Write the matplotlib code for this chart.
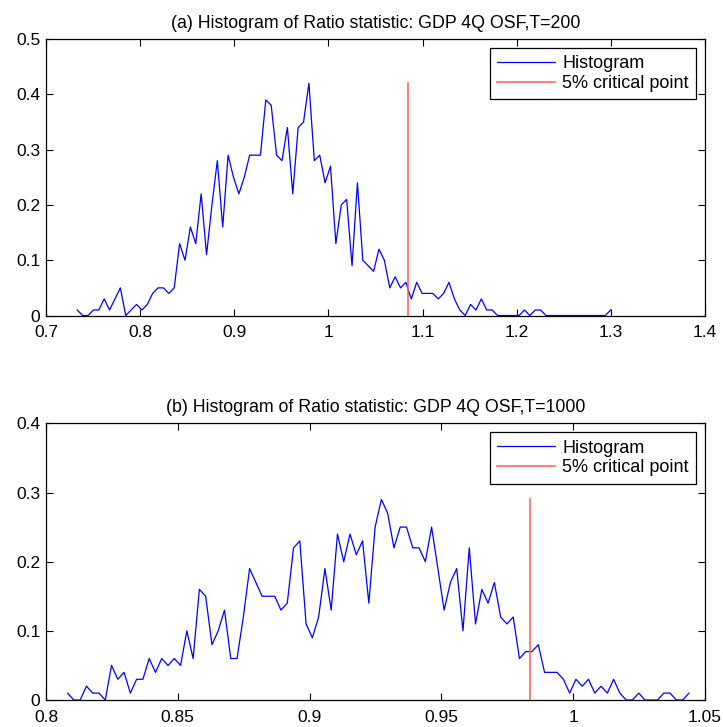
import matplotlib
matplotlib.use('Agg')
import matplotlib.pyplot as plt
import numpy as np

plt.rcParams['font.family'] = ['Liberation Sans', 'DejaVu Sans']

# (a) T=200: 100 bins
a_start, a_end = 0.7332, 1.2998
a_freq = [0.01, 0, 0, 0.01, 0.01, 0.03, 0.01, 0.03, 0.05, 0,
          0.01, 0.02, 0.01, 0.02, 0.04, 0.05, 0.05, 0.04, 0.05, 0.13,
          0.10, 0.16, 0.13, 0.22, 0.11, 0.20, 0.28, 0.16, 0.29, 0.25,
          0.22, 0.25, 0.29, 0.29, 0.29, 0.39, 0.38, 0.29, 0.28, 0.34,
          0.22, 0.34, 0.35, 0.42, 0.28, 0.29, 0.24, 0.27, 0.13, 0.20,
          0.21, 0.09, 0.24, 0.10, 0.09, 0.08, 0.12, 0.10, 0.05, 0.07,
          0.05, 0.06, 0.03, 0.06, 0.04, 0.04, 0.04, 0.03, 0.04, 0.06,
          0.03, 0.01, 0, 0.02, 0.01, 0.03, 0.01, 0.01, 0, 0,
          0, 0, 0, 0.01, 0, 0.01, 0.01, 0, 0, 0,
          0, 0, 0, 0, 0, 0, 0, 0, 0, 0.01]
a_crit = 1.0843

# (b) T=1000: 100 bins
b_start, b_end = 0.8082, 1.0439
b_freq = [0.01, 0, 0, 0.02, 0.01, 0.01, 0, 0.05, 0.03, 0.04,
          0.01, 0.03, 0.03, 0.06, 0.04, 0.06, 0.05, 0.06, 0.05, 0.10,
          0.06, 0.16, 0.15, 0.08, 0.10, 0.13, 0.06, 0.06, 0.12, 0.19,
          0.17, 0.15, 0.15, 0.15, 0.13, 0.14, 0.22, 0.23, 0.11, 0.09,
          0.12, 0.19, 0.13, 0.24, 0.20, 0.24, 0.21, 0.23, 0.14, 0.25,
          0.29, 0.27, 0.22, 0.25, 0.25, 0.22, 0.22, 0.20, 0.25, 0.19,
          0.13, 0.17, 0.19, 0.10, 0.22, 0.11, 0.16, 0.14, 0.17, 0.12,
          0.11, 0.12, 0.06, 0.07, 0.07, 0.08, 0.04, 0.04, 0.04, 0.03,
          0.01, 0.03, 0.02, 0.03, 0.01, 0.02, 0.01, 0.03, 0.01, 0,
          0, 0.01, 0, 0, 0, 0.01, 0.01, 0, 0, 0.01]
b_crit = 0.9836

panels = [
    dict(start=a_start, end=a_end, freq=a_freq, crit=a_crit,
         title='(a) Histogram of Ratio statistic: GDP 4Q OSF,T=200',
         xlim=(0.7, 1.4), xticks=[0.7, 0.8, 0.9, 1.0, 1.1, 1.2, 1.3, 1.4],
         ylim=(0, 0.5), yticks=[0, 0.1, 0.2, 0.3, 0.4, 0.5],
         rect=[0.0636, 0.566, 0.9115, 0.3803]),
    dict(start=b_start, end=b_end, freq=b_freq, crit=b_crit,
         title='(b) Histogram of Ratio statistic: GDP 4Q OSF,T=1000',
         xlim=(0.8, 1.05), xticks=[0.8, 0.85, 0.9, 0.95, 1.0, 1.05],
         ylim=(0, 0.4), yticks=[0, 0.1, 0.2, 0.3, 0.4],
         rect=[0.0636, 0.0371, 0.9115, 0.3806]),
]


def fmt(v):
    return ('%.2f' % v).rstrip('0').rstrip('.')


fig = plt.figure(figsize=(7.23, 7.27), dpi=100)

for p in panels:
    ax = fig.add_axes(p['rect'])
    x = np.linspace(p['start'], p['end'], len(p['freq']))
    ax.plot(x, p['freq'], color='#0000ff', lw=0.9, label='Histogram')
    ax.plot([p['crit'], p['crit']], [0, max(p['freq'])], color='#ff5a5a',
            lw=1.1, label='5% critical point')
    ax.set_xlim(p['xlim'])
    ax.set_ylim(p['ylim'])
    ax.set_xticks(p['xticks'])
    ax.set_xticklabels([fmt(v) for v in p['xticks']])
    ax.set_yticks(p['yticks'])
    ax.set_yticklabels([fmt(v) for v in p['yticks']])
    ax.tick_params(direction='in', top=True, right=True, labelsize=12.5,
                   length=5, width=0.8)
    ax.tick_params(axis='x', pad=7)
    ax.tick_params(axis='y', pad=4)
    for s in ax.spines.values():
        s.set_linewidth(0.9)
    ax.set_title(p['title'], fontsize=12.8, pad=8)
    leg = ax.legend(loc='upper right', fontsize=13, fancybox=False,
                    edgecolor='black', framealpha=1, handlelength=3.2,
                    handletextpad=0.4, borderaxespad=0.5, borderpad=0.4,
                    labelspacing=0.15)
    leg.get_frame().set_linewidth(0.9)

fig.savefig('out.png', dpi=100)
